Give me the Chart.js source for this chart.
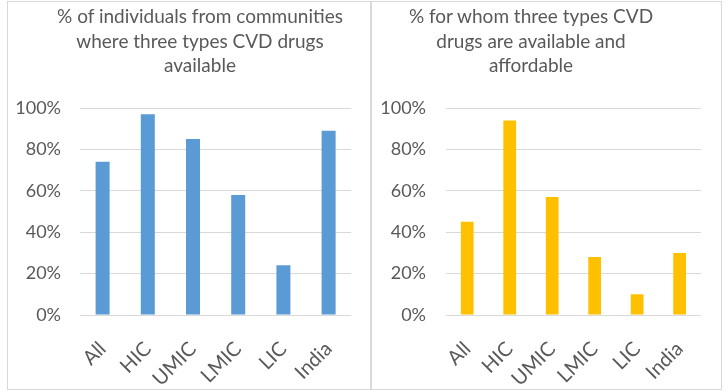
<!DOCTYPE html>
<html>
<head>
<meta charset="utf-8">
<script src="https://cdn.jsdelivr.net/npm/chart.js@4.4.1/dist/chart.umd.min.js"></script>
<style>
  html, body { margin: 0; padding: 0; background: #ffffff; }
  #stage { position: relative; width: 728px; height: 392px; overflow: hidden; background: #fff; }
  .frame { position: absolute; box-sizing: border-box; border: 1px solid #d9d9d9; }
  .title { position: absolute; text-align: center; font-family: Lato, "Liberation Sans", sans-serif;
           font-size: 19px; line-height: 24.5px; color: #595959; white-space: nowrap; }
  canvas { position: absolute; }
</style>
</head>
<body>
<div id="stage">
  <div class="frame" style="left:7px; top:1px; width:364px; height:389px;"></div>
  <div class="frame" style="left:371px; top:1px; width:351px; height:389px;"></div>
  <div id="leftWrap" style="position:absolute; left:8px; top:2px; width:361px; height:386px;"><canvas id="c1"></canvas></div>
  <div id="rightWrap" style="position:absolute; left:372px; top:2px; width:348px; height:386px;"><canvas id="c2"></canvas></div>
  <div class="title" id="t1" style="left:35px; width:330px; top:4px;"></div>
  <div class="title" id="t2" style="left:366px; width:330px; top:4px;"></div>
</div>
<script>
// ---- Data ----
const categories = ['All', 'HIC', 'UMIC', 'LMIC', 'LIC', 'India'];
const availableValues = [74, 97, 85, 58, 24, 89];
const affordableValues = [45, 94, 57, 28, 10, 30];
const yTickValues = [0, 20, 40, 60, 80, 100];
const leftTitleLines = ['% of individuals from communities', 'where three types CVD drugs', 'available'];
const rightTitleLines = ['% for whom three types CVD', 'drugs are available and', 'affordable'];

function setTitle(id, lines) {
  const el = document.getElementById(id);
  lines.forEach((l, i) => {
    if (i) el.appendChild(document.createElement('br'));
    el.appendChild(document.createTextNode(l));
  });
}
setTitle('t1', leftTitleLines);
setTitle('t2', rightTitleLines);

const textColor = '#595959';
const gridColor = '#d9d9d9';
const fontFamily = 'Lato, "Liberation Sans", sans-serif';

function makeChart(canvasId, values, color, opts) {
  return new Chart(document.getElementById(canvasId), {
    type: 'bar',
    data: {
      labels: categories,
      datasets: [{
        data: values,
        backgroundColor: color,
        borderWidth: 0,
        categoryPercentage: 1.0,
        barPercentage: opts.barPct
      }]
    },
    options: {
      responsive: true,
      maintainAspectRatio: false,
      animation: false,
      devicePixelRatio: 1,
      layout: { padding: { top: 106, right: opts.rightPad, bottom: 0, left: 0 } },
      plugins: { legend: { display: false }, title: { display: false }, tooltip: { enabled: false } },
      scales: {
        x: {
          grid: { display: false, drawTicks: false },
          border: { display: false },
          ticks: {
            autoSkip: false, minRotation: 45, maxRotation: 45,
            color: textColor, padding: 22,
            font: { family: fontFamily, size: 20 }
          },
          afterFit: (s) => { s.height = 73; }
        },
        y: {
          min: 0, max: 100,
          afterBuildTicks: (s) => { s.ticks = yTickValues.map(v => ({ value: v })); },
          grid: { color: gridColor, lineWidth: 1, drawTicks: false },
          border: { display: false },
          ticks: {
            color: textColor, padding: opts.tickPad,
            font: { family: fontFamily, size: 18 },
            callback: (v) => v + '%'
          },
          afterFit: (s) => { s.width = opts.yWidth; }
        }
      }
    }
  });
}

makeChart('c1', availableValues, '#5B9BD5', { barPct: 0.31, rightPad: 17, yWidth: 72, tickPad: 19 });
makeChart('c2', affordableValues, '#FFC000', { barPct: 0.30, rightPad: 17, yWidth: 74, tickPad: 20 });
</script>
</body>
</html>
